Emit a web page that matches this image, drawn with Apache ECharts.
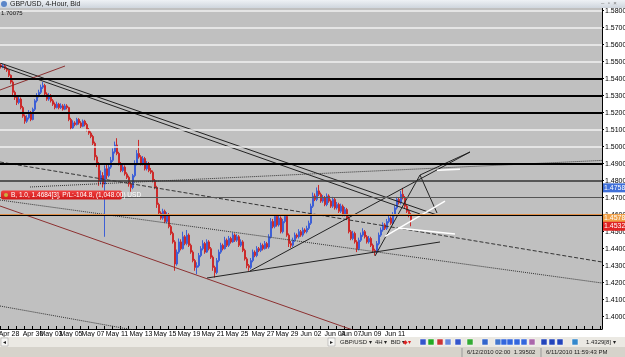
<!DOCTYPE html>
<html><head><meta charset="utf-8">
<script src="https://cdn.jsdelivr.net/npm/echarts@6/dist/echarts.min.js"></script>
<style>html,body{margin:0;padding:0;background:#fff;overflow:hidden}#c{width:625px;height:357px}</style>
</head><body><div id="c"></div><script>
// prices in 1/10000 units (15480 = 1.5480)
const opens=[15480,15470,15475,15460,15450,15420,15380,15320,15290,15260,
15280,15230,15180,15150,15170,15200,15160,15220,15270,15300,
15320,15350,15360,15310,15280,15300,15270,15250,15230,15250,
15230,15240,15220,15240,15230,15160,15110,15140,15130,15160,
15140,15120,15150,15130,15100,15080,15060,15020,14940,14900,
14800,14830,14780,14870,14830,14880,14920,14970,15010,14960,
14900,14860,14880,14840,14820,14780,14760,14830,14900,14960,
14940,14900,14930,14870,14900,14860,14850,14800,14760,14660,
14610,14580,14620,14560,14600,14530,14490,14440,14310,14380,
14440,14400,14470,14430,14480,14420,14380,14330,14290,14300,
14360,14400,14430,14380,14440,14400,14350,14290,14260,14330,
14380,14420,14400,14450,14420,14460,14440,14480,14450,14470,
14420,14440,14390,14340,14300,14290,14330,14380,14360,14400,
14390,14420,14400,14430,14410,14470,14560,14530,14590,14540,
14580,14500,14560,14590,14480,14430,14420,14450,14480,14470,
14500,14480,14510,14500,14520,14550,14650,14710,14690,14740,
14720,14680,14700,14660,14710,14680,14650,14690,14640,14660,
14620,14650,14600,14630,14580,14500,14460,14490,14440,14400,
14450,14480,14500,14470,14440,14460,14420,14390,14380,14430,
14480,14510,14540,14520,14560,14580,14550,14600,14640,14690,
14670,14720,14700,14650,14620,14600];
const closes=[15470,15475,15460,15450,15420,15380,15320,15290,15260,15280,
15230,15180,15150,15170,15200,15160,15220,15270,15300,15320,
15350,15360,15310,15280,15300,15270,15250,15230,15250,15230,
15240,15220,15240,15230,15160,15110,15140,15130,15160,15140,
15120,15150,15130,15100,15080,15060,15020,14940,14900,14800,
14830,14780,14870,14830,14880,14920,14970,15010,14960,14900,
14860,14880,14840,14820,14780,14760,14830,14900,14960,14940,
14900,14930,14870,14900,14860,14850,14800,14760,14660,14610,
14580,14620,14560,14600,14530,14490,14440,14310,14380,14440,
14400,14470,14430,14480,14420,14380,14330,14290,14300,14360,
14400,14430,14380,14440,14400,14350,14290,14260,14330,14380,
14420,14400,14450,14420,14460,14440,14480,14450,14470,14420,
14440,14390,14340,14300,14290,14330,14380,14360,14400,14390,
14420,14400,14430,14410,14470,14560,14530,14590,14540,14580,
14500,14560,14590,14480,14430,14420,14450,14480,14470,14500,
14480,14510,14500,14520,14550,14650,14710,14690,14740,14720,
14680,14700,14660,14710,14680,14650,14690,14640,14660,14620,
14650,14600,14630,14580,14500,14460,14490,14440,14400,14450,
14480,14500,14470,14440,14460,14420,14390,14380,14430,14480,
14510,14540,14520,14560,14580,14550,14600,14640,14690,14670,
14720,14700,14650,14620,14600,14570];
const highs=[15490,15485,15482,15468,15455,15425,15390,15330,15300,15295,
15290,15240,15190,15185,15215,15210,15230,15280,15315,15335,
15365,15380,15370,15320,15315,15310,15280,15260,15265,15258,
15255,15250,15252,15250,15235,15170,15155,15150,15170,15168,
15150,15160,15158,15140,15110,15090,15070,15030,14950,14910,
14860,14850,14890,14900,14900,14940,14990,15030,15050,14970,
14910,14895,14890,14850,14830,14790,14840,14920,14980,15040,
14950,14945,14940,14915,14910,14875,14860,14810,14770,14670,
14620,14635,14630,14615,14610,14540,14500,14450,14395,14460,
14455,14500,14480,14510,14490,14430,14390,14340,14320,14375,
14415,14450,14440,14455,14450,14410,14360,14300,14345,14395,
14435,14430,14470,14460,14475,14470,14495,14490,14485,14480,
14455,14450,14400,14350,14310,14345,14395,14390,14415,14410,
14435,14430,14445,14440,14485,14580,14575,14600,14600,14598,
14590,14575,14600,14600,14490,14445,14465,14495,14490,14515,
14510,14525,14520,14535,14565,14665,14730,14725,14760,14775,
14730,14715,14710,14725,14720,14690,14705,14700,14675,14670,
14665,14660,14645,14640,14590,14510,14505,14500,14450,14465,
14495,14520,14510,14480,14475,14470,14430,14400,14445,14495,
14525,14555,14550,14575,14595,14590,14615,14655,14705,14700,
14740,14758,14710,14660,14630,14610];
const lows=[15460,15462,15452,15440,15410,15370,15300,15275,15245,15250,
15220,15170,15135,15140,15160,15150,15155,15210,15260,15290,
15310,15340,15300,15270,15270,15260,15240,15220,15225,15220,
15222,15212,15215,15220,15150,15098,15105,15120,15125,15130,
15110,15115,15120,15090,15070,15050,15010,14920,14880,14770,
14780,14760,14470,14810,14820,14870,14910,14960,14950,14890,
14850,14850,14830,14810,14765,14735,14750,14820,14890,14930,
14890,14890,14860,14860,14850,14840,14790,14750,14640,14595,
14570,14570,14550,14550,14520,14480,14430,14270,14300,14370,
14390,14395,14420,14420,14410,14370,14320,14270,14250,14290,
14350,14390,14370,14375,14390,14340,14270,14230,14250,14320,
14370,14390,14395,14410,14410,14430,14435,14440,14440,14410,
14410,14380,14330,14285,14270,14280,14320,14350,14350,14380,
14380,14390,14395,14400,14400,14460,14520,14520,14530,14530,
14490,14490,14550,14470,14410,14405,14410,14440,14460,14460,
14470,14470,14490,14490,14510,14540,14640,14680,14680,14710,
14670,14670,14650,14650,14670,14640,14640,14630,14630,14610,
14610,14590,14590,14570,14490,14450,14450,14430,14380,14390,
14440,14470,14460,14430,14430,14410,14375,14360,14370,14420,
14470,14500,14510,14510,14550,14540,14540,14590,14630,14660,
14660,14690,14640,14610,14585,14532];

const dateLabels=['Apr 28','Apr 30','May 03','May 05','May 07','May 11','May 13','May 15','May 19','May 21','May 25','May 27','May 29','Jun 02','Jun 04','Jun 07','Jun 09','Jun 11'];
const dateIdx=[4,16,25,35,46,58,70,82,94,106,118,131,143,155,167,175,185,197];
const slotCount=301;
const priceTicks=[1.40,1.41,1.42,1.43,1.44,1.45,1.46,1.47,1.48,1.49,1.50,1.51,1.52,1.53,1.54,1.55,1.56,1.57,1.58];
const whiteLevels=[1.5801,1.5729,1.5614,1.5514,1.5379,1.5251,1.5063,1.4976];
const blackLevels=[1.5441,1.5314,1.5192,1.4853,1.4608];
const darkLevels=[1.4794];
const orderLevel=1.4686;
const bidLevel=1.4577;
const tagHigh=1.4758, tagBid=1.4578, tagLow=1.4532;

// trend lines as [slot index, price] pairs
const lineA=[[-0.5,1.54924],[218,1.45982]];
const lineB=[[-0.5,1.54747],[209.5,1.46041]];
const redShort=[[-0.5,1.53335],[32,1.54747]];
const maroonLong=[[-0.5,1.46512],[185,1.3884]];
const dashedA=[[-0.5,1.4910],[300.5,1.43218]];
const dottedB=[[-0.5,1.46863],[300.5,1.41981]];
const dottedC=[[-0.5,1.40629],[70,1.3914]];
const dottedD=[[14.5,1.47629],[300.5,1.49194]];
const wedge1=[[124.5,1.42688],[234.5,1.49688]];
const wedgeS=[[103,1.42276],[219.5,1.44394]];
const wedge2=[[187,1.4357],[209.5,1.48335],[218,1.4610]];
const wedge3=[[209.5,1.48335],[234.5,1.49688]];
const white1=[[192,1.4473],[222,1.46794]];
const white2=[[198.5,1.45218],[227,1.44865]];
const white3=[[218,1.4862],[229.5,1.4868]];

const cats=[]; for(let i=0;i<slotCount;i++) cats.push('');
dateIdx.forEach((k,j)=>{cats[k]=dateLabels[j];});
const candles=opens.map((o,i)=>[o/1e4,closes[i]/1e4,lows[i]/1e4,highs[i]/1e4]);

const FONT='"Liberation Sans", Arial, sans-serif';
function tl(data,color,type,width){return {type:'line',xAxisIndex:1,yAxisIndex:0,data:data,symbol:'none',silent:true,animation:false,clip:true,z:3,lineStyle:{color:color,type:type||'solid',width:width||1}};}
function hl(levels,color,width,type){return levels.map(v=>({yAxis:v,lineStyle:{color:color,width:width,type:type||'solid'}}));}

const chart=echarts.init(document.getElementById('c'),null,{renderer:'canvas'});
const option={
  animation:false,
  grid:{left:0,right:23,top:8,bottom:28,show:true,backgroundColor:'#c0c0c0',borderWidth:0,containLabel:false,outerBoundsMode:'none'},
  xAxis:[
    {type:'category',data:cats,boundaryGap:true,
     axisLine:{show:true,onZero:false,lineStyle:{color:'#000',width:1}},
     axisTick:{show:true,inside:true,length:3,interval:3,lineStyle:{color:'#000'}},
     axisLabel:{show:true,interval:0,fontSize:7,fontFamily:FONT,color:'#000',margin:2},
     splitLine:{show:false}},
    {type:'value',min:-0.5,max:slotCount-0.5,show:false}
  ],
  yAxis:[{type:'value',position:'right',min:1.39276,max:1.58159,scale:true,
    axisLine:{show:true,onZero:false,lineStyle:{color:'#000'}},
    axisTick:{show:true,length:2,customValues:priceTicks,lineStyle:{color:'#000'}},
    axisLabel:{show:true,customValues:priceTicks,fontSize:7,fontFamily:FONT,color:'#000',margin:3,
      formatter:v=>v.toFixed(4)+'[0]'},
    splitLine:{show:false}}],
  series:[
    {type:'candlestick',xAxisIndex:0,yAxisIndex:0,data:candles,barWidth:2,z:2,
     itemStyle:{color:'#3d5fd6',color0:'#cc2a2a',borderColor:'#3d5fd6',borderColor0:'#cc2a2a',borderWidth:1},
     markLine:{silent:true,symbol:'none',animation:false,label:{show:false},
       data:[].concat(
         hl(whiteLevels,'#f2f2f2',1.5),
         hl(blackLevels,'#000',2),
         hl(darkLevels,'#333',1.5),
         hl([orderLevel],'#555',1),
         hl([bidLevel],'#e0904a',1))}},
    tl(lineA,'#222'),tl(lineB,'#222'),
    tl(redShort,'#8c3030'),tl(maroonLong,'#8c3030'),
    tl(dashedA,'#333','dashed'),tl(dottedB,'#333','dotted'),tl(dottedC,'#333','dotted'),tl(dottedD,'#333','dotted'),
    tl(wedge1,'#222'),tl(wedgeS,'#222'),tl(wedge2,'#222'),tl(wedge3,'#222'),
    tl(white1,'#fff','solid',1.5),tl(white2,'#fff','solid',1.5),tl(white3,'#fff','solid',1.5)
  ]
};
chart.setOption(option);

function py(v){return chart.convertToPixel({yAxisIndex:0},v);}
function tag(v,fill,txt){const y=py(v);return [
  {type:'rect',shape:{x:603,y:y-4.5,width:22,height:9},style:{fill:fill},z:50},
  {type:'text',x:604,y:y,style:{text:txt,fill:'#fff',font:'7px '+FONT,textVerticalAlign:'middle'},z:51}];}
const orderY=py(orderLevel);
const icons=[['#3355cc',420],['#22aa22',428],['#cc3333',437],['#6688dd',445],['#3355cc',455],['#33aa33',467],['#3366cc',482],['#4477cc',495],['#3366dd',501],['#3366dd',507],['#3366dd',514],['#3366dd',521],['#aa66aa',529],['#2244bb',541],['#2244bb',549],['#2244bb',557],['#3388cc',572]];
const g=[
  {type:'rect',shape:{x:0,y:0,width:625,height:8},style:{fill:new echarts.graphic.LinearGradient(0,0,0,1,[{offset:0,color:'#eef1f5'},{offset:1,color:'#cfd5dd'}])},z:40},
  {type:'circle',shape:{cx:4,cy:4,r:3},style:{fill:'#5b86c9'},z:41},
  {type:'text',x:10,y:4.5,style:{text:'GBP/USD, 4-Hour, Bid',fill:'#222',font:'7px '+FONT,textVerticalAlign:'middle'},z:41},
  {type:'text',x:601,y:3.5,style:{text:'–  ▫  ×',fill:'#777',font:'6px '+FONT,textVerticalAlign:'middle'},z:41},
  {type:'text',x:1,y:13,style:{text:'1.70075',fill:'#111',font:'6px '+FONT,textVerticalAlign:'middle'},z:41},
  {type:'rect',shape:{x:0,y:337,width:625,height:10},style:{fill:'#ebe9e3'},z:40},
  {type:'rect',shape:{x:1,y:338,width:7,height:8},style:{fill:'#f7f7f5',stroke:'#999',lineWidth:0.5},z:41},
  {type:'text',x:2.5,y:342,style:{text:'◂',fill:'#222',font:'6px '+FONT,textVerticalAlign:'middle'},z:42},
  {type:'rect',shape:{x:328,y:338,width:7,height:8},style:{fill:'#f7f7f5',stroke:'#999',lineWidth:0.5},z:41},
  {type:'text',x:329.5,y:342,style:{text:'▸',fill:'#222',font:'6px '+FONT,textVerticalAlign:'middle'},z:42},
  {type:'text',x:340,y:342,style:{text:'GBP/USD ▾  4H ▾  BID ▾',fill:'#222',font:'6px '+FONT,textVerticalAlign:'middle'},z:42},
  {type:'text',x:403,y:342,style:{text:'◆▾',fill:'#dd2222',font:'6px '+FONT,textVerticalAlign:'middle'},z:42},
  {type:'text',x:586,y:342,style:{text:'1.4329[8] ▾',fill:'#222',font:'6px '+FONT,textVerticalAlign:'middle'},z:42},
  {type:'rect',shape:{x:0,y:347,width:625,height:10},style:{fill:'#d6d3cb'},z:40},
  {type:'line',shape:{x1:462,y1:348,x2:462,y2:357},style:{stroke:'#999',lineWidth:1},z:41},
  {type:'line',shape:{x1:541,y1:348,x2:541,y2:357},style:{stroke:'#999',lineWidth:1},z:41},
  {type:'text',x:467,y:352.5,style:{text:'6/12/2010 02:00  1.39502',fill:'#222',font:'6px '+FONT,textVerticalAlign:'middle'},z:42},
  {type:'text',x:546,y:352.5,style:{text:'6/11/2010 11:59:43 PM',fill:'#222',font:'6px '+FONT,textVerticalAlign:'middle'},z:42},
  {type:'rect',shape:{x:1,y:orderY-9.5,width:121,height:9,r:2},style:{fill:new echarts.graphic.LinearGradient(0,0,0,1,[{offset:0,color:'#f04040'},{offset:1,color:'#d01818'}])},z:45},
  {type:'circle',shape:{cx:6,cy:orderY-5,r:2},style:{fill:'#c8b040'},z:46},
  {type:'text',x:11,y:orderY-5,style:{text:'B, 1.0, 1.4684[3], P/L:-104.8, (1,048.00) USD',fill:'#fff',font:'6.5px '+FONT,textVerticalAlign:'middle'},z:46}
].concat(tag(tagHigh,'#3f6fd8','1.4758[0]'),tag(tagBid,'#f0a048','1.4578[0]'),tag(tagLow,'#e02424','1.4532[0]'));
icons.forEach(([c,x])=>{g.push({type:'rect',shape:{x:x,y:339,width:6,height:6},style:{fill:c,stroke:'#fff',lineWidth:0.5},z:42});});
chart.setOption({graphic:{elements:g}});
</script></body></html>
